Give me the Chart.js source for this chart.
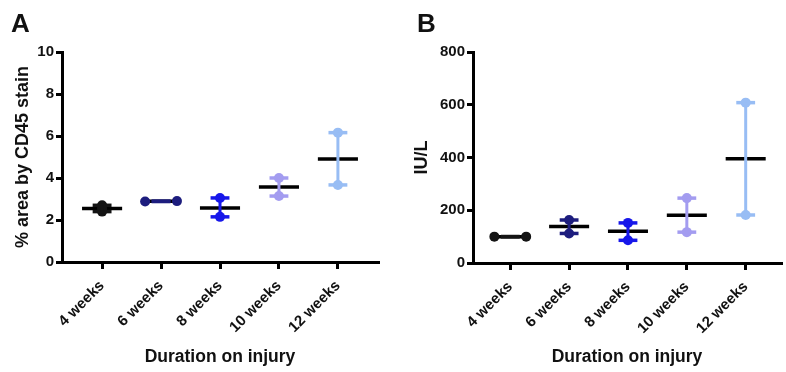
<!DOCTYPE html>
<html>
<head>
<meta charset="utf-8">
<script src="https://cdn.jsdelivr.net/npm/chart.js@4"></script>
<style>
  html, body { margin: 0; padding: 0; background: #fff; }
  #wrap { position: relative; width: 786px; height: 372px; overflow: hidden; }
  .panel { position: absolute; top: 0; width: 393px; height: 372px; }
  .letter { position: absolute; top: 8px; font: bold 26px "Liberation Sans", Arial, sans-serif; color: #111; }
</style>
</head>
<body>
<div id="wrap">
  <div class="panel" style="left:0"><canvas id="chartA" width="393" height="372"></canvas></div>
  <div class="panel" style="left:393px"><canvas id="chartB" width="393" height="372"></canvas></div>
  <div class="letter" style="left:11px">A</div>
  <div class="letter" style="left:417px">B</div>
</div>
<script>
// 横軸のカテゴリ
const categories = ['4 weeks', '6 weeks', '8 weeks', '10 weeks', '12 weeks'];
const groupColors = ['#141414', '#1d1d7e', '#1717ea', '#a39cf0', '#98bdf4'];

// A: % area by CD45 stain
const pointsA = [[2.4, 2.55, 2.7], [2.88, 2.9], [2.15, 3.05], [3.14, 4.0], [3.67, 6.16]];
const meanA = [2.55, 2.89, 2.57, 3.57, 4.9];
const yTicksA = [0, 2, 4, 6, 8, 10];

// B: IU/L
const pointsB = [[100, 100], [112, 163], [86, 152], [117, 246], [182, 608]];
const meanB = [100, 138, 120, 181, 395];
const yTicksB = [0, 200, 400, 600, 800];

const FONT = '"Liberation Sans", Arial, sans-serif';

function buildDatasets(points, means, yMax) {
    const sets = [];
    points.forEach((vals, i) => {
        const color = groupColors[i];
        const lo = Math.min(...vals);
        const hi = Math.max(...vals);
        // ほぼ同じ値の点は横に並べる
        const spread = (hi - lo) < yMax * 0.02;
        const pts = vals.map((v, k) => ({
            x: spread ? i + (k - (vals.length - 1) / 2) * 0.54 / Math.max(1, vals.length - 1) : i,
            y: v
        }));
        // エラーバー（縦線）
        sets.push({ data: [{ x: i, y: lo }, { x: i, y: hi }], showLine: true,
            borderColor: color, borderWidth: 3, pointRadius: 0 });
        // キャップ
        [lo, hi].forEach(v => sets.push({ data: [{ x: i - 0.16, y: v }, { x: i + 0.16, y: v }],
            showLine: true, borderColor: color, borderWidth: 3.5, pointRadius: 0 }));
        // 個々の点
        sets.push({ data: pts, showLine: false, pointRadius: 5, pointBorderWidth: 0,
            backgroundColor: color, borderColor: color });
        // 平均線
        sets.push({ data: [{ x: i - 0.34, y: means[i] }, { x: i + 0.34, y: means[i] }],
            showLine: true, borderColor: '#000', borderWidth: 3.5, pointRadius: 0 });
    });
    return sets;
}

function makeChart(id, points, means, yTicks, yTitle, opt) {
    const yMax = yTicks[yTicks.length - 1];
    const ctx = document.getElementById(id).getContext('2d');
    return new Chart(ctx, {
        type: 'scatter',
        data: { datasets: buildDatasets(points, means, yMax) },
        options: {
            responsive: false,
            animation: false,
            layout: { padding: { top: opt.top, left: opt.left, right: opt.right, bottom: 0 } },
            plugins: { legend: { display: false }, tooltip: { enabled: false } },
            scales: {
                x: {
                    type: 'linear',
                    min: opt.xMin,
                    max: opt.xMax,
                    afterBuildTicks: s => { s.ticks = categories.map((c, i) => ({ value: i })); },
                    afterFit: s => { s.height = opt.xHeight; },
                    ticks: {
                        callback: v => categories[v],
                        minRotation: 45, maxRotation: 45, autoSkip: false,
                        color: '#111', font: { family: FONT, size: 15, weight: 'bold' }, padding: 8
                    },
                    grid: { drawOnChartArea: false, drawTicks: true, tickLength: 7, color: '#000', lineWidth: 3 },
                    border: { color: '#000', width: 3 },
                    title: { display: true, text: 'Duration on injury', color: '#111',
                        font: { family: FONT, size: 17.5, weight: 'bold' }, padding: { top: 4, bottom: 4 } }
                },
                y: {
                    min: 0,
                    max: yMax,
                    afterBuildTicks: s => { s.ticks = yTicks.map(v => ({ value: v })); },
                    afterFit: s => { s.width = opt.yWidth; },
                    ticks: { color: '#111', font: { family: FONT, size: 15, weight: 'bold' }, padding: 2 },
                    grid: { drawOnChartArea: false, drawTicks: true, tickLength: 6, color: '#000', lineWidth: 3 },
                    border: { color: '#000', width: 3 },
                    title: { display: true, text: yTitle, color: '#111',
                        font: { family: FONT, size: 18, weight: 'bold' }, padding: { top: 4, bottom: 4 } }
                }
            }
        }
    });
}

makeChart('chartA', pointsA, meanA, yTicksA, '% area by CD45 stain',
    { top: 52, left: 8, right: 15, yWidth: 54, xHeight: 110, xMin: -0.68, xMax: 4.68 });
makeChart('chartB', pointsB, meanB, yTicksB, 'IU/L',
    { top: 52, left: 14, right: 0, yWidth: 66, xHeight: 109, xMin: -0.633, xMax: 4.6 });
</script>
</body>
</html>
